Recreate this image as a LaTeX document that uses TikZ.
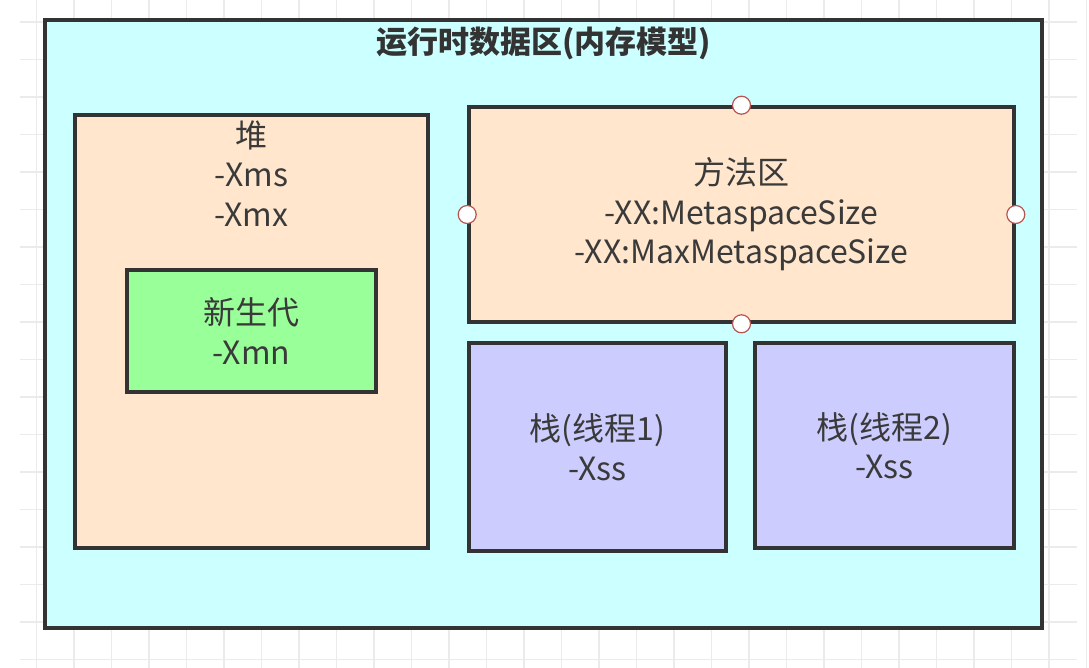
\documentclass[tikz,border=0pt]{standalone}
\usepackage{fontspec}
\setmainfont{Noto Sans CJK SC}
\usetikzlibrary{positioning,shadows}
\definecolor{areafill}{HTML}{CCFFFF}
\definecolor{heapfill}{HTML}{FFE6CC}
\definecolor{youngfill}{HTML}{99FF99}
\definecolor{stackfill}{HTML}{CCCCFF}
\definecolor{edgegray}{HTML}{333333}
\definecolor{handlered}{HTML}{B85450}
\definecolor{gridgray}{HTML}{EBEBEB}
\definecolor{textgray}{HTML}{3A3A3A}
\begin{document}
\begin{tikzpicture}[x=1pt, y=-1pt,
	box/.style = {draw=edgegray, line width=3.6pt, rectangle, inner sep=0pt,
		drop shadow={opacity=0.3, shadow xshift=1.5pt, shadow yshift=-1.5pt}},
	boxtext/.style = {text=textgray, align=center, inner sep=0pt, font=\fontsize{32pt}{39.5pt}\selectfont},
	titletext/.style = {text=edgegray, inner sep=0pt, font=\fontsize{31pt}{36pt}\selectfont\bfseries},
	handle/.style = {circle, draw=handlered, line width=1.2pt, fill=white, minimum size=18pt, inner sep=0pt}]
	\useasboundingbox (0,0) rectangle (1089,668);
	\fill[white] (0,0) rectangle (1089,668);
	% background grid
	\foreach \i in {0,...,28}
		\draw[gridgray, line width=1.3pt] ({36.5+37.5*\i},0) -- ({36.5+37.5*\i},668);
	\foreach \j in {0,...,17}
		\draw[gridgray, line width=1.3pt] (20,{22+37.5*\j}) -- (1077,{22+37.5*\j});

	\node [box, fill=areafill, minimum width=997pt, minimum height=608pt] (area) at (543.5,324) {};
	\node [titletext, below=9pt of area.north] (title) {运行时数据区(内存模型)};

	% heap
	\node [box, fill=heapfill, minimum width=353pt, minimum height=433pt] (heap) at (251.5,331.5) {};
	\node [boxtext, below=7pt of heap.north] (heaptext) {堆\\-Xms\\-Xmx};
	\node [box, fill=youngfill, minimum width=249pt, minimum height=122pt, boxtext] (young) at (251.5,331) {新生代\\-Xmn};

	% method area
	\node [box, fill=heapfill, minimum width=545pt, minimum height=215pt, boxtext] (method) at (741.5,214.5)
		{方法区\\-XX:MetaspaceSize\\-XX:MaxMetaspaceSize};

	% stacks
	\node [box, fill=stackfill, minimum width=257pt, minimum height=208pt, boxtext] (stack1) at (597.5,447) {栈(线程1)\\-Xss};
	\node [box, fill=stackfill, minimum width=259pt, minimum height=205pt, boxtext] (stack2) at (884.5,445.5) {栈(线程2)\\-Xss};

	\foreach \side in {north,east,south,west}
		\node [handle] (handle-\side) at (method.\side) {};
\end{tikzpicture}
\end{document}
